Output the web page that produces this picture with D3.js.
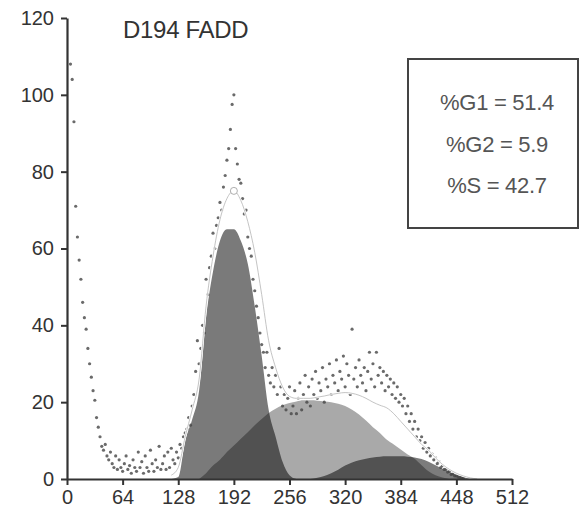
<!DOCTYPE html>
<html>
<head>
<meta charset="utf-8">
<script src="https://cdn.jsdelivr.net/npm/d3@7"></script>
<style>
  body { margin: 0; background: #fff; }
  svg { display: block; }
  text { font-family: "Liberation Sans", Arial, sans-serif; }
</style>
</head>
<body>
<div id="chart"></div>
<script>
// tick labels
const xTicks = [0, 64, 128, 192, 256, 320, 384, 448, 512];
const yTicks = [0, 20, 40, 60, 80, 100, 120];

const title = 'D194 FADD';
const stats = ['%G1 = 51.4', '%G2 = 5.9', '%S = 42.7'];

// fitted components, [channel, count]
const g1Fit = [[120, 0], [128, 0.5], [136, 10], [144, 15.5], [152, 23], [160, 42], [168, 54], [176, 62],
  [184, 65], [192, 65], [200, 62], [208, 56], [216, 45], [224, 32], [232, 18], [240, 11],
  [248, 4.5], [256, 1], [264, 0]];

const sFit = [[152, 0], [160, 1.5], [168, 3.5], [176, 5], [184, 7], [192, 8.7], [200, 10.5], [208, 12.2],
  [216, 14], [224, 15.6], [232, 17.2], [240, 18.3], [248, 19.2], [256, 19.8], [264, 20.2], [272, 20.5],
  [280, 20.5], [288, 20.4], [296, 20.2], [304, 20], [312, 19.6], [320, 19], [328, 18], [336, 16.8],
  [344, 15.2], [352, 13.5], [360, 12], [368, 10.2], [376, 9], [384, 7.7], [392, 6.4], [400, 5.3],
  [408, 3.6], [416, 2], [424, 1], [432, 0.4], [440, 0]];

const g2Fit = [[280, 0], [288, 0.3], [296, 0.8], [304, 1.5], [312, 2.4], [320, 3.5], [328, 4.3], [336, 4.9],
  [344, 5.3], [352, 5.6], [360, 5.8], [368, 5.9], [376, 5.9], [384, 5.9], [392, 5.8], [400, 5.6],
  [408, 5.2], [416, 4.5], [424, 3.6], [432, 2.7], [440, 1.8], [448, 1.1], [456, 0.6], [464, 0.25], [472, 0]];

const totalFit = [[120, 1], [128, 3], [136, 11], [144, 18], [152, 26], [160, 45], [168, 58], [176, 67.5],
  [184, 73], [192, 75], [200, 72.5], [208, 67], [216, 59], [224, 48], [232, 36], [240, 29],
  [248, 24], [256, 21.5], [264, 21], [272, 21], [280, 21], [288, 21.3], [296, 21.6], [304, 22],
  [312, 22.3], [320, 22.5], [328, 22.3], [336, 21.8], [344, 21], [352, 20], [360, 19.2], [368, 18.5],
  [376, 17], [384, 15], [392, 13], [400, 11], [408, 9], [416, 7.5], [424, 5.5], [432, 3.8],
  [440, 2.5], [448, 1.5], [456, 0.8], [464, 0.3], [472, 0]];

// raw histogram, one count every 2 channels from channel 4
const rawStart = 4, rawStep = 2;
const rawCounts = [108, 104, 93, 71, 63, 57, 52, 46, 42, 39, 34, 30, 26.5, 23, 20.5, 16, 13.5, 11, 8.5,
  7.5, 9, 6, 5, 7, 4, 3, 6, 2.5, 5, 3, 2, 4, 6, 2.5, 3.5, 1.5, 5, 3, 2, 7, 3, 4.5, 1.5, 6, 3, 2, 7.5,
  4, 2, 5, 3, 8.5, 2.5, 4, 6, 2.5, 7, 3, 8, 5, 4, 7, 5.5, 9, 8, 11, 12, 13, 16, 14, 19, 22, 28, 36,
  30, 34, 40, 38, 52, 48, 55, 58, 64, 60, 66, 68, 72, 70, 76, 79, 83, 86, 91, 97.5, 100, 86, 82, 78,
  77, 73, 69, 70, 63, 60, 58, 52, 49, 45, 42, 38, 35, 33, 29, 33, 27, 25, 29, 24, 27, 22, 34, 24,
  19, 22, 18, 21, 24, 17,
  19, 23, 17, 21, 25, 18, 22, 27, 20, 24, 19, 26, 22, 28, 21, 25, 23, 29, 20, 26, 24, 30, 22, 27,
  25, 31, 23, 28, 26, 32, 24, 30, 27, 22, 39, 26, 29, 24, 31, 27, 25, 29, 23, 28, 33, 26, 30, 24,
  33, 27, 29, 25, 28, 23, 27, 24, 26, 22, 25, 21, 24, 20, 22, 19, 21, 17, 19, 15, 17, 13, 15, 11,
  13, 10, 11, 8, 9.5, 7, 8, 6, 6.5, 5, 5.5, 4, 4.5, 3, 3.5, 2.5, 2.5, 1.8, 2, 1.2, 1.3, 0.8, 0.8,
  0.5, 0.4, 0.3, 0.2];

const width = 581, height = 515;

const x = d3.scaleLinear().domain([0, 512]).range([67, 512]);
const y = d3.scaleLinear().domain([0, 120]).range([479, 18]);

const svg = d3.select('#chart').append('svg')
  .attr('width', width)
  .attr('height', height);

const area = d3.area()
  .x(d => x(d[0]))
  .y0(y(0))
  .y1(d => y(d[1]))
  .curve(d3.curveMonotoneX);

const line = d3.line()
  .x(d => x(d[0]))
  .y(d => y(d[1]))
  .curve(d3.curveMonotoneX);

const comps = svg.append('g').attr('class', 'components').style('isolation', 'isolate');

comps.append('path').datum(sFit)
  .attr('d', area)
  .attr('fill', '#a9a9a9');

comps.append('path').datum(g1Fit)
  .attr('d', area)
  .attr('fill', '#7a7a7a')
  .style('mix-blend-mode', 'multiply');

comps.append('path').datum(g2Fit)
  .attr('d', area)
  .attr('fill', '#7c7c7c')
  .style('mix-blend-mode', 'multiply');

// raw data points
const raw = rawCounts.map((v, i) => [rawStart + i * rawStep, v]);
svg.append('g').selectAll('circle')
  .data(raw)
  .join('circle')
  .attr('cx', d => x(d[0]))
  .attr('cy', d => y(d[1]))
  .attr('r', 1.6)
  .attr('fill', '#454545')
  .attr('opacity', 0.8);

// total fit
svg.append('path').datum(totalFit)
  .attr('d', line)
  .attr('fill', 'none')
  .attr('stroke', '#fff')
  .attr('stroke-width', 2.2);
svg.append('path').datum(totalFit)
  .attr('d', line)
  .attr('fill', 'none')
  .attr('stroke', '#b5b5b5')
  .attr('stroke-width', 0.8);

const peak = totalFit.reduce((a, b) => (b[1] > a[1] ? b : a));
svg.append('circle')
  .attr('cx', x(peak[0]))
  .attr('cy', y(peak[1]))
  .attr('r', 3.5)
  .attr('fill', '#fff')
  .attr('stroke', '#999')
  .attr('stroke-width', 0.8);

// axes
const xAxis = svg.append('g')
  .attr('transform', `translate(0,${y(0)})`)
  .call(d3.axisBottom(x).tickValues(xTicks).tickSize(6).tickSizeOuter(0).tickPadding(5));

const yAxis = svg.append('g')
  .attr('transform', `translate(${x(0)},0)`)
  .call(d3.axisLeft(y).tickValues(yTicks).tickSize(6).tickSizeOuter(0).tickPadding(7));

[xAxis, yAxis].forEach(g => {
  g.select('.domain').attr('stroke', '#333').attr('stroke-width', 2.2);
  g.selectAll('.tick line').attr('stroke', '#333').attr('stroke-width', 2);
  g.selectAll('.tick text')
    .attr('fill', '#333')
    .style('font-size', '20px');
});

svg.append('text')
  .attr('x', 123)
  .attr('y', 38)
  .attr('fill', '#333')
  .style('font-size', '24px')
  .style('letter-spacing', '-0.3px')
  .text(title);

// stats box
svg.append('rect')
  .attr('x', 408)
  .attr('y', 59)
  .attr('width', 170)
  .attr('height', 169)
  .attr('fill', '#fff')
  .attr('stroke', '#444')
  .attr('stroke-width', 2);

svg.append('g').selectAll('text')
  .data(stats)
  .join('text')
  .attr('x', 497)
  .attr('y', (d, i) => 110 + i * 41.5)
  .attr('text-anchor', 'middle')
  .attr('fill', '#555')
  .style('font-size', '22px')
  .style('letter-spacing', '-0.3px')
  .text(d => d);
</script>
</body>
</html>
